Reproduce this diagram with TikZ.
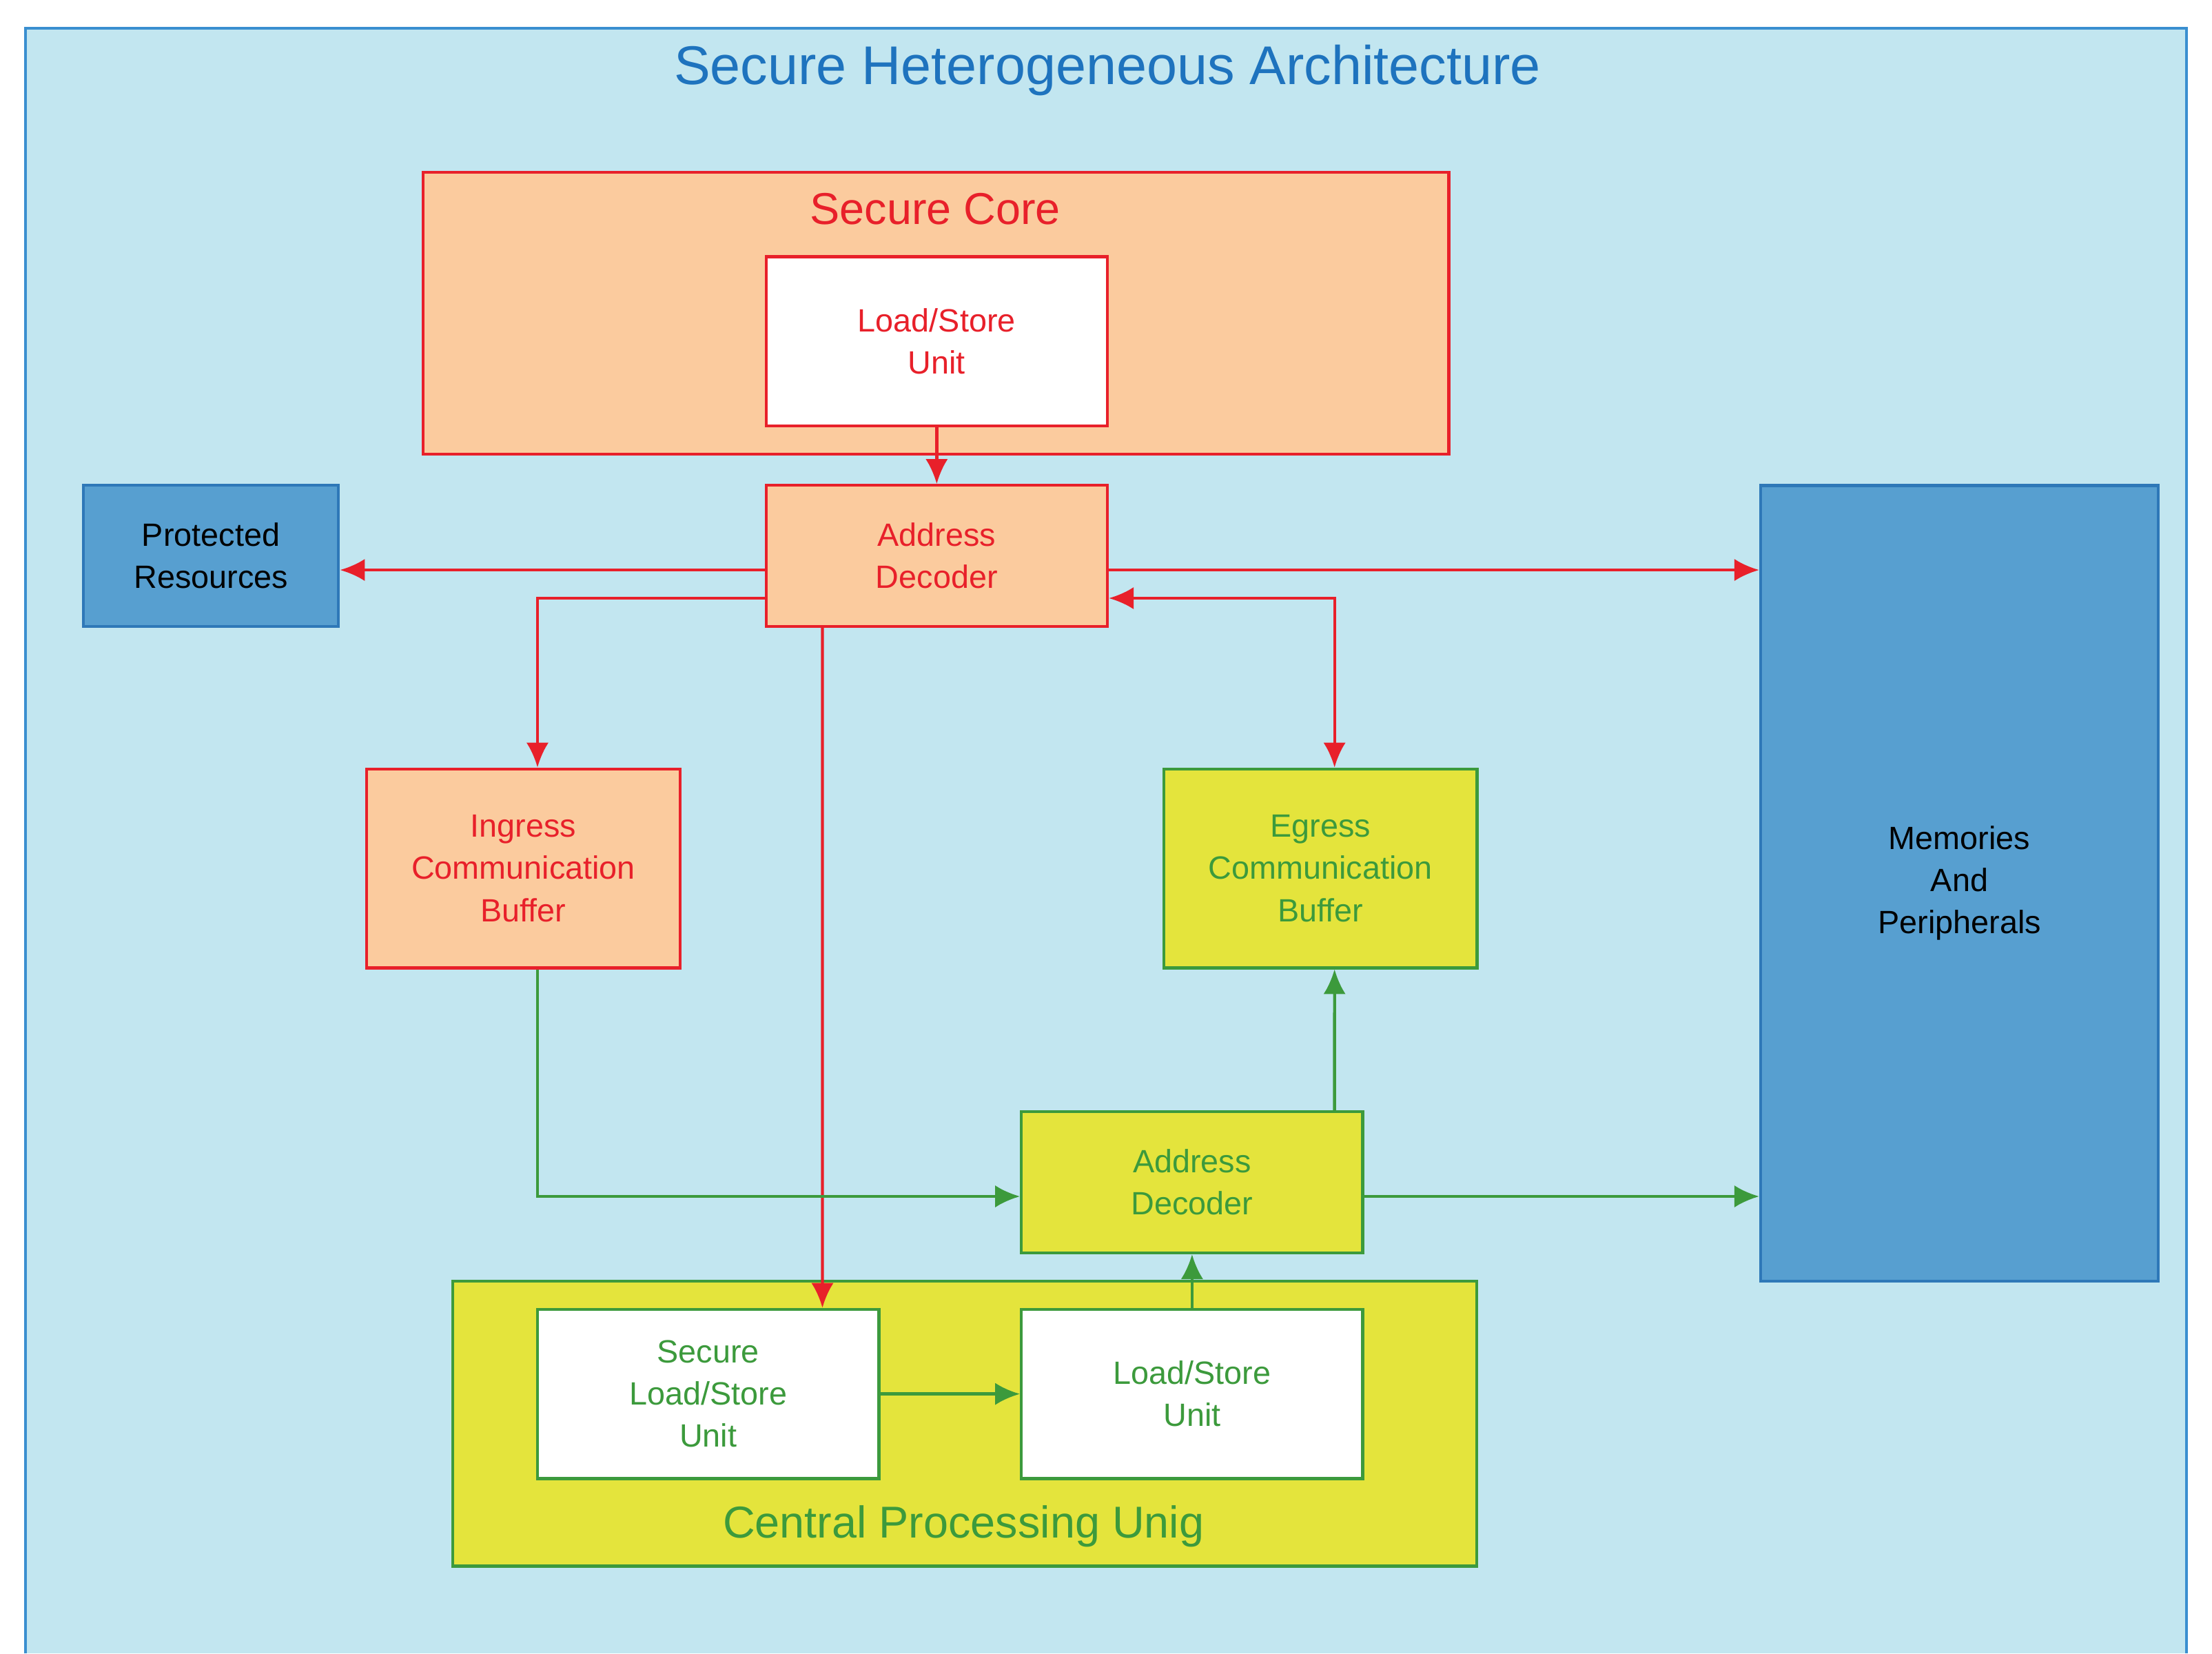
\documentclass[tikz,border=0pt]{standalone}
\usepackage{fontspec}
\setmainfont{Liberation Sans}
\usetikzlibrary{arrows.meta, calc}
\definecolor{bgblue}{HTML}{C2E6F0}
\definecolor{frameblue}{HTML}{3A8FD0}
\definecolor{titleblue}{HTML}{1E73BE}
\definecolor{peach}{HTML}{FBCB9E}
\definecolor{lred}{HTML}{E8202A}
\definecolor{yel}{HTML}{E4E43C}
\definecolor{lgreen}{HTML}{3C9A3C}
\definecolor{resblue}{HTML}{579FD0}
\definecolor{resedge}{HTML}{2E78B8}
\tikzstyle{secure} = [rectangle, draw=lred, fill=peach, text=lred, line width=1.2pt, align=center, font=\fontsize{13}{17}\selectfont]
\tikzstyle{unsafe} = [rectangle, draw=lgreen, fill=yel, text=lgreen, line width=1.2pt, align=center, font=\fontsize{13}{17}\selectfont]
\tikzstyle{resource} = [rectangle, draw=resedge, fill=resblue, text=black, line width=1.2pt, align=center, font=\fontsize{13}{17}\selectfont]
\tikzstyle{redarrow} = [lred, line width=1.2pt, -{Latex[length=10pt,width=9pt]}]
\tikzstyle{greenarrow} = [lgreen, line width=1.2pt, -{Latex[length=10pt,width=9pt]}]
\begin{document}
\begin{tikzpicture}[x=0.02cm, y=-0.02cm]
    \useasboundingbox (0,0) rectangle (1568,1172);
    \fill[bgblue] (18,20) rectangle (1550,1172);
    \draw[frameblue, line width=1.2pt] (18,1172) -- (18,20) -- (1550,20) -- (1550,1172);
    \node (title) [text=titleblue, font=\fontsize{22}{26}\selectfont] at (785,50) {Secure Heterogeneous Architecture};

    % secure side
    \node (core) [secure, minimum width=14.54cm, minimum height=4cm] at (663.5,222) {};
    \node (core_title) [text=lred, font=\fontsize{18}{22}\selectfont] at (663,148) {Secure Core};
    \node (lsu1) [secure, fill=white, minimum width=4.84cm, minimum height=2.4cm] at (664,242) {Load/Store\\Unit};
    \node (ad1) [secure, minimum width=4.84cm, minimum height=2cm] at (664,394) {Address\\Decoder};
    \node (ing) [secure, minimum width=4.44cm, minimum height=2.82cm] at (371,615.5) {Ingress\\Communication\\Buffer};

    % resources
    \node (prot) [resource, minimum width=3.62cm, minimum height=2cm] at (149.5,394) {Protected\\Resources};
    \node (mem) [resource, minimum width=5.64cm, minimum height=11.28cm] at (1389,626) {Memories\\And\\Peripherals};

    % cpu side
    \node (egr) [unsafe, minimum width=4.44cm, minimum height=2.82cm] at (936,615.5) {Egress\\Communication\\Buffer};
    \node (ad2) [unsafe, minimum width=4.84cm, minimum height=2cm] at (845,838) {Address\\Decoder};
    \node (cpu) [unsafe, minimum width=14.52cm, minimum height=4.04cm] at (684,1009) {};
    \node (cpu_title) [text=lgreen, font=\fontsize{18}{22}\selectfont] at (683,1082) {Central Processing Unig};
    \node (slsu) [unsafe, fill=white, minimum width=4.84cm, minimum height=2.4cm] at (502,988) {Secure\\Load/Store\\Unit};
    \node (lsu2) [unsafe, fill=white, minimum width=4.84cm, minimum height=2.4cm] at (845,988) {Load/Store\\Unit};

    \coordinate (ad1_l) at ([yshift=-0.2cm]ad1.west);
    \coordinate (ad1_r) at ([yshift=-0.2cm]ad1.east);
    \coordinate (ad2_r) at ([yshift=-0.2cm]ad2.east);

    \draw [redarrow] (lsu1) -- (ad1);
    \draw [redarrow] (ad1_l) -- (ad1_l -| prot.east);
    \draw [redarrow] (ad1_r) -- (ad1_r -| mem.west);
    \draw [redarrow] ([yshift=-0.6cm]ad1.west) -| ([xshift=0.2cm]ing.north);
    \draw [redarrow, {Latex[length=10pt,width=9pt]}-{Latex[length=10pt,width=9pt]}] ([yshift=-0.6cm]ad1.east) -| ([xshift=0.2cm]egr.north);
    \draw [redarrow] ([xshift=-1.62cm]ad1.south) -- ([xshift=1.62cm]slsu.north);

    \draw [greenarrow] ([xshift=0.2cm]ing.south) |- ([yshift=-0.2cm]ad2.west);
    \draw [greenarrow] (ad2_r) -- (ad2_r -| mem.west);
    \draw [greenarrow] ([xshift=2.02cm]ad2.north) -- ([xshift=0.2cm]egr.south);
    \draw [greenarrow] (lsu2) -- (ad2);
    \draw [greenarrow] (slsu) -- (lsu2);
\end{tikzpicture}
\end{document}
